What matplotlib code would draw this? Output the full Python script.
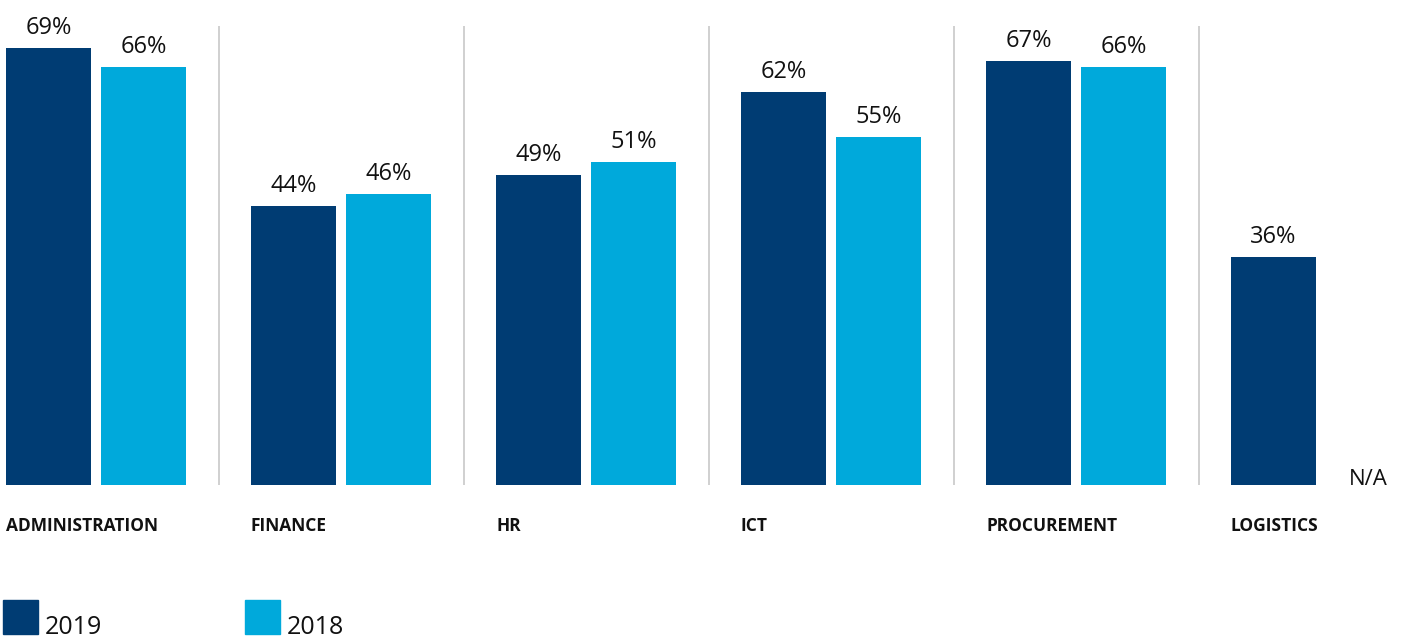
import numpy as np
import matplotlib.pyplot as plt
import matplotlib.patches as mpatches

plt.rcParams['font.family'] = ['Open Sans', 'DejaVu Sans']

categories = ['ADMINISTRATION', 'FINANCE', 'HR', 'ICT', 'PROCUREMENT', 'LOGISTICS']
vals_2019 = [69, 44, 49, 62, 67, 36]
vals_2018 = [66, 46, 51, 55, 66, None]
series_names = ['2019', '2018']

dark = '#003C73'
light = '#00A9DB'

W, H = 1405, 639
fig = plt.figure(figsize=(W / 100, H / 100), dpi=100)
# axes in pixel units horizontally, percent vertically
base_y, top_y = 485, 26
ax = fig.add_axes([0, (H - base_y) / H, 1, (base_y - top_y) / H])
ax.set_xlim(0, W)
ax.set_ylim(0, (base_y - top_y) / 6.333)
ax.axis('off')

pitch, x0, bw, gap = 245, 6, 85, 95
idx = np.arange(len(categories))
left19 = x0 + pitch * idx
left18 = left19 + gap

v18 = [v if v is not None else 0 for v in vals_2018]
ax.bar(left19, vals_2019, width=bw, align='edge', color=dark)
ax.bar(left18, v18, width=bw, align='edge', color=light)

for i in idx:
    ax.annotate(f'{vals_2019[i]}%', (left19[i] + bw / 2, vals_2019[i]), xytext=(0, 10),
                textcoords='offset points', ha='center', va='baseline', fontsize=17, color='#111111')
    if vals_2018[i] is not None:
        ax.annotate(f'{vals_2018[i]}%', (left18[i] + bw / 2, vals_2018[i]), xytext=(0, 10),
                    textcoords='offset points', ha='center', va='baseline', fontsize=17, color='#111111')
    else:
        ax.annotate('N/A', (left18[i] + bw / 2, 0), xytext=(0, 0), textcoords='offset points',
                    ha='center', va='baseline', fontsize=16, color='#111111')
    # category label under the group
    ax.annotate(categories[i], (left19[i], 0), xytext=(0, -29.5), textcoords='offset points',
                ha='left', va='center', fontsize=12.5, fontweight='bold', color='#111111')
    if i > 0:
        ax.axvline(left19[i] - 32.5, color='#C8C8C8', lw=1.2)

# legend
for j, (name, col) in enumerate(zip(series_names, [dark, light])):
    lx = 3 + 242 * j
    fig.patches.append(mpatches.Rectangle((lx / W, (H - 634) / H), 35 / W, 34 / H,
                                          transform=fig.transFigure, color=col))
    fig.text((lx + 42) / W, (H - 634) / H, name, fontsize=18, va='baseline', ha='left', color='#111111')

fig.savefig('out.png', dpi=100)
